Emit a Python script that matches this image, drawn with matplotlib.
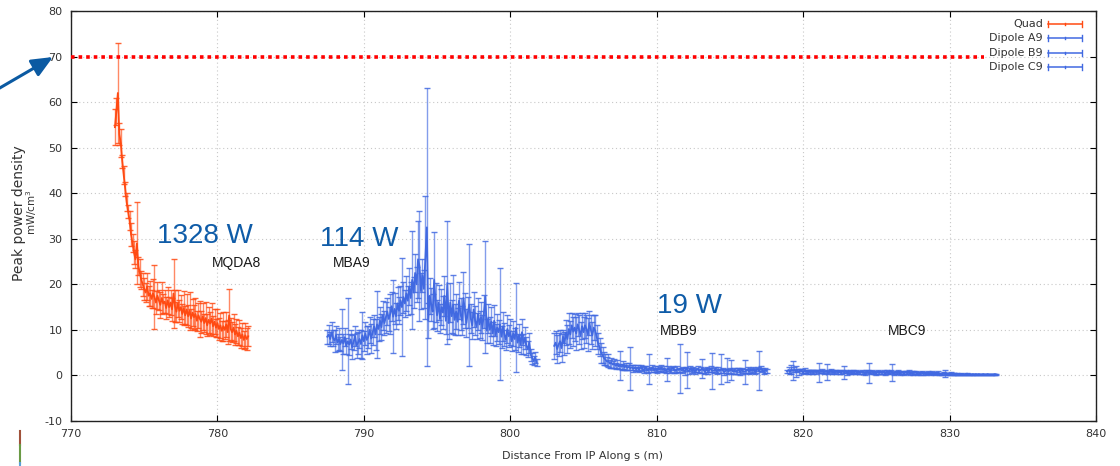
import numpy as np
import matplotlib
matplotlib.use("Agg")
from matplotlib import pyplot as plt
from matplotlib.lines import Line2D
from matplotlib.patches import FancyArrowPatch

plt.rcParams["axes.unicode_minus"] = False

# peak power density along s, one array per magnet (mW/cm^3)
quad_s = (773.0, 782.1)
quad_val = [
    54.5, 58.0, 62.0, 53.0, 51.0, 47.0, 44.0, 41.0, 38.0, 36.0,
    34.0, 31.0, 29.0, 27.0, 25.5, 29.0, 24.0, 22.5, 21.0, 20.0,
    19.0, 18.2, 19.5, 17.5, 18.0, 16.8, 18.0, 17.2, 16.0, 17.5,
    16.5, 15.5, 17.0, 15.8, 16.2, 14.8, 16.5, 15.0, 16.0, 14.5,
    18.0, 15.2, 14.0, 15.8, 14.2, 15.0, 13.5, 14.8, 13.2, 14.5,
    13.0, 14.2, 12.5, 13.8, 12.8, 13.5, 12.0, 13.2, 12.4, 11.8,
    13.0, 11.5, 12.6, 11.0, 12.2, 11.4, 12.5, 10.8, 11.8, 10.5,
    11.5, 10.2, 11.0, 9.8, 10.8, 10.0, 11.2, 9.5, 13.2, 10.2,
    9.5, 10.5, 9.0, 9.8, 8.6, 9.4, 8.2, 9.0, 7.8, 8.8,
    8.0, 8.6,
]
quad_err = [
    3.9, 3.0, 11.0, 2.5, 3.0, 1.5, 2.0, 1.5, 2.0, 1.5,
    2.0, 2.5, 2.0, 2.5, 2.0, 9.0, 2.0, 3.0, 2.0, 2.5,
    2.5, 2.0, 3.0, 2.2, 2.8, 2.0, 3.2, 7.0, 2.5, 3.0,
    2.2, 2.8, 3.5, 2.0, 2.6, 2.4, 3.0, 2.2, 2.8, 2.5,
    7.5, 3.5, 2.2, 3.0, 2.4, 2.6, 2.2, 3.8, 2.0, 3.4,
    2.4, 4.2, 2.0, 3.0, 2.6, 3.5, 2.2, 2.8, 4.0, 2.4,
    3.0, 2.0, 3.6, 2.4, 2.8, 2.6, 3.4, 2.2, 2.8, 2.0,
    3.0, 2.4, 2.8, 2.2, 3.2, 2.0, 2.8, 2.6, 5.7, 2.4,
    2.2, 3.0, 2.4, 2.6, 2.0, 2.8, 2.2, 2.6, 2.0, 2.8,
    2.4, 2.2,
]

dipa_s = (787.5, 801.8)
dipa_val = [
    8.5, 9.0, 8.0, 9.5, 8.2, 7.6,
    8.8, 7.2, 8.0, 6.9, 7.8, 7.0, 8.4, 6.5, 7.5, 6.8,
    7.9, 6.2, 7.4, 8.6, 6.6, 7.2, 8.0, 6.9, 8.8, 7.5,
    9.2, 7.8, 8.5, 10.0, 8.1, 9.5, 10.8, 9.0, 11.2, 10.2,
    12.0, 10.6, 13.2, 11.5, 12.8, 14.0, 12.4, 13.5, 15.2, 12.9,
    14.6, 13.0, 15.8, 14.2, 16.5, 15.0, 17.2, 15.8, 18.0, 16.4,
    19.5, 17.0, 21.0, 18.2, 22.5, 20.0, 25.5, 24.0, 18.5, 22.0,
    19.0, 26.0, 32.5, 12.0, 17.5, 15.5, 14.0, 21.0, 16.0, 13.2,
    16.0, 12.5, 15.0, 13.8, 17.5, 12.0, 20.3, 11.5, 16.0, 13.0,
    15.5, 12.2, 14.0, 11.8, 16.5, 13.5, 12.0, 17.0, 14.2, 11.5,
    13.8, 15.5, 12.5, 11.0, 14.5, 12.0, 10.8, 13.5, 11.2, 12.8,
    10.5, 14.0, 17.3, 9.8, 12.5, 10.0, 11.8, 9.2, 12.0, 8.8,
    10.5, 9.5, 11.2, 8.5, 10.8, 9.0, 7.8, 10.2, 8.6, 9.5,
    7.5, 9.2, 8.0, 10.5, 7.2, 8.8, 6.8, 9.5, 7.0, 8.2,
    6.5, 5.8, 7.2, 4.5, 3.8, 3.2, 4.0, 2.8,
]
dipa_err = [
    1.5, 2.0, 1.6, 2.2, 1.8, 2.4,
    2.0, 1.8, 2.5, 1.6, 6.7, 2.2, 2.0, 1.8, 9.4, 2.4,
    2.0, 2.6, 1.8, 2.2, 2.8, 2.4, 2.0, 3.0, 5.2, 2.2,
    2.6, 3.0, 2.4, 2.8, 3.2, 2.8, 2.4, 3.4, 7.4, 2.6,
    3.0, 2.8, 3.2, 2.6, 3.4, 3.0, 2.6, 4.3, 3.2, 8.0,
    3.4, 2.8, 3.6, 3.0, 3.2, 10.7, 3.4, 3.0, 3.8, 3.2,
    4.0, 3.6, 10.8, 3.4, 4.2, 3.8, 8.5, 12.0, 4.0, 3.6,
    4.2, 13.5, 30.5, 3.8, 4.0, 3.6, 3.8, 10.5, 4.2, 3.4,
    3.8, 3.2, 4.0, 3.6, 4.4, 3.0, 13.5, 3.4, 4.2, 3.6,
    6.5, 3.4, 3.8, 3.0, 4.0, 3.6, 3.2, 5.7, 3.8, 3.0,
    3.4, 13.4, 3.2, 3.0, 3.8, 3.2, 2.8, 3.6, 3.0, 3.4,
    2.8, 3.6, 12.3, 2.6, 3.2, 2.8, 3.2, 2.6, 3.4, 2.4,
    3.0, 2.6, 12.3, 2.4, 3.2, 2.6, 2.2, 3.0, 2.4, 2.8,
    2.2, 2.8, 2.4, 9.7, 2.0, 2.6, 2.0, 2.8, 2.2, 2.4,
    2.0, 1.8, 2.2, 1.4, 1.2, 1.0, 1.2, 0.8,
]

dipb_s = (803.0, 817.5)
dipb_val = [
    6.5, 7.2, 5.8, 6.8, 7.5, 6.0, 8.5, 7.0, 9.4, 8.0,
    10.2, 9.0, 11.0, 9.6, 10.5, 9.2, 11.2, 10.0, 8.8, 10.8,
    9.5, 11.0, 10.2, 9.0, 11.5, 10.0, 8.8, 10.5, 9.8, 8.5,
    7.0, 6.2, 5.0, 4.5, 3.8, 3.5, 3.0, 3.2, 2.6, 2.8,
    2.4, 2.6, 2.1, 2.5, 2.0, 2.2, 1.9, 2.3, 1.8, 2.0,
    1.7, 1.9, 1.6, 1.8, 1.5, 1.7, 1.4, 1.6, 1.3, 1.8,
    1.5, 1.2, 1.6, 1.4, 1.1, 1.5, 1.3, 1.7, 1.2, 1.4,
    1.1, 1.5, 1.3, 1.6, 1.2, 1.4, 1.0, 1.3, 1.5, 1.1,
    1.3, 1.6, 1.2, 1.0, 1.4, 1.2, 1.5, 1.1, 1.3, 0.9,
    1.4, 1.2, 1.0, 1.5, 1.1, 1.3, 0.9, 1.2, 1.4, 1.0,
    1.2, 1.5, 1.1, 0.9, 1.3, 1.0, 1.2, 1.4, 1.0, 1.1,
    1.3, 0.9, 1.2, 1.0, 1.4, 1.1, 0.8, 1.0, 1.2, 0.9,
    1.1, 1.3, 0.9, 1.0, 0.8, 1.0, 1.2, 0.8, 1.1, 0.9,
    0.8, 1.0, 1.2, 0.9, 1.1, 1.0, 1.3, 0.9, 1.1, 1.4,
    1.0, 1.5, 1.2, 0.9, 1.1, 1.0,
]
dipb_err = [
    2.8, 2.5, 3.0, 2.6, 2.4, 3.0, 1.4, 2.6, 2.8, 3.0,
    3.4, 3.0, 2.8, 3.2, 3.0, 3.6, 2.6, 3.2, 3.0, 2.8,
    3.4, 2.8, 3.0, 3.6, 2.6, 3.2, 3.0, 2.8, 3.4, 2.6,
    2.4, 2.0, 2.2, 1.8, 1.4, 1.2, 1.0, 1.4, 0.9, 1.1,
    0.8, 1.0, 0.7, 0.9, 0.6, 3.1, 0.7, 0.9, 0.6, 0.8,
    0.6, 0.8, 4.7, 0.5, 0.7, 0.6, 0.5, 0.7, 0.5, 0.6,
    0.5, 0.6, 0.5, 0.7, 0.5, 3.3, 0.5, 0.6, 0.5, 0.7,
    0.5, 0.6, 0.5, 0.7, 0.5, 0.6, 0.5, 2.5, 0.6, 0.5,
    0.6, 0.5, 0.7, 0.5, 0.6, 0.5, 5.3, 0.6, 0.5, 0.7,
    0.5, 3.9, 0.6, 0.5, 0.6, 0.5, 0.6, 0.5, 0.7, 0.5,
    0.6, 2.1, 0.5, 0.6, 0.5, 0.6, 0.5, 0.7, 4.0, 0.5,
    0.6, 0.5, 0.7, 0.5, 3.2, 0.5, 0.6, 0.5, 2.6, 0.5,
    0.6, 2.2, 0.5, 0.6, 0.5, 0.6, 0.5, 0.6, 0.5, 0.6,
    2.7, 0.5, 0.6, 0.5, 0.6, 0.5, 0.6, 0.5, 0.6, 0.5,
    4.3, 0.6, 0.5, 0.6, 0.5, 0.5,
]

dipc_s = (818.9, 833.2)
dipc_val = [
    0.9, 1.2, 0.8, 1.4, 1.0, 1.3, 0.9, 1.1, 0.8, 1.2,
    1.0, 0.7, 1.1, 0.9, 0.8, 1.0, 0.8, 0.9, 0.7, 1.0,
    0.8, 0.9, 0.7, 0.8, 1.0, 0.7, 0.9, 0.8, 0.6, 0.9,
    1.1, 0.8, 0.7, 0.9, 1.0, 0.7, 0.8, 0.6, 0.9, 0.7,
    0.8, 0.6, 0.7, 0.9, 0.6, 0.8, 0.7, 0.9, 0.6, 0.7,
    0.6, 0.8, 0.7, 0.5, 0.7, 0.8, 0.6, 0.7, 0.9, 0.6,
    0.7, 0.5, 0.8, 0.6, 0.7, 0.6, 0.7, 0.5, 0.8, 0.6,
    0.7, 0.9, 0.6, 0.5, 0.7, 0.6, 0.8, 0.5, 0.7, 0.6,
    0.5, 0.7, 0.6, 0.8, 0.5, 0.6, 0.5, 0.7, 0.6, 0.4,
    0.6, 0.5, 0.7, 0.5, 0.6, 0.4, 0.6, 0.5, 0.4, 0.6,
    0.5, 0.4, 0.5, 0.6, 0.4, 0.3, 0.4, 0.5, 0.4, 0.3,
    0.4, 0.3, 0.5, 0.3, 0.4, 0.3, 0.4, 0.3, 0.2, 0.3,
    0.3, 0.2, 0.3, 0.4, 0.2, 0.3, 0.2, 0.3, 0.2, 0.3,
    0.2, 0.3, 0.2, 0.2, 0.3, 0.2, 0.2, 0.3, 0.2, 0.2,
    0.2, 0.2, 0.3, 0.2,
]
dipc_err = [
    0.4, 0.6, 0.4, 1.0, 2.1, 0.5, 1.2, 0.4, 0.6, 0.3,
    0.4, 0.3, 0.5, 0.3, 0.4, 0.3, 0.4, 0.3, 0.4, 0.3,
    0.4, 0.3, 2.1, 0.3, 0.4, 0.3, 0.4, 1.8, 0.3, 0.4,
    0.3, 0.4, 0.3, 0.4, 0.3, 0.3, 0.4, 0.3, 0.4, 1.4,
    0.3, 0.4, 0.3, 0.4, 0.3, 0.3, 0.3, 0.4, 0.3, 0.3,
    0.3, 0.4, 0.3, 0.3, 0.4, 0.3, 2.2, 0.3, 0.4, 0.3,
    0.3, 0.3, 0.4, 0.3, 0.3, 0.3, 0.4, 0.3, 0.3, 0.3,
    0.3, 0.3, 1.9, 0.3, 0.3, 0.3, 0.3, 0.3, 0.3, 0.3,
    0.3, 0.3, 0.3, 0.3, 0.3, 0.3, 0.3, 0.3, 0.3, 0.3,
    0.2, 0.3, 0.2, 0.3, 0.2, 0.2, 0.3, 0.2, 0.2, 0.3,
    0.2, 0.2, 0.2, 0.3, 0.2, 0.2, 0.2, 0.2, 0.8, 0.2,
    0.2, 0.2, 0.2, 0.2, 0.2, 0.1, 0.2, 0.1, 0.1, 0.2,
    0.1, 0.1, 0.1, 0.2, 0.1, 0.1, 0.1, 0.1, 0.1, 0.1,
    0.1, 0.1, 0.1, 0.1, 0.1, 0.1, 0.1, 0.1, 0.1, 0.1,
    0.1, 0.1, 0.1, 0.1,
]

limit = 70.0

# integrated power and magnet name for each block: (s, y, text)
powers = [(775.9, 29.1, "1328 W"), (787.0, 28.5, "114 W"), (810.05, 13.8, "19 W")]
magnets = [(779.6, 23.9, "MQDA8"), (787.9, 23.9, "MBA9"),
           (810.2, 8.95, "MBB9"), (825.8, 8.95, "MBC9")]

quad_color = "#ff4a12"
dip_color = "#4169e1"
series = [
    ("Quad", quad_s, quad_val, quad_err, quad_color),
    ("Dipole A9", dipa_s, dipa_val, dipa_err, dip_color),
    ("Dipole B9", dipb_s, dipb_val, dipb_err, dip_color),
    ("Dipole C9", dipc_s, dipc_val, dipc_err, dip_color),
]

W, H = 1120, 466


def fx(px):
    return px / W


def fy(py):
    return 1 - py / H


fig = plt.figure(figsize=(W / 100, H / 100), dpi=100)
ax = fig.add_axes([fx(71), fy(421), fx(1096) - fx(71), fy(11) - fy(421)])

for name, (s0, s1), val, err, col in series:
    s = np.linspace(s0, s1, len(val))
    eb = ax.errorbar(s, val, yerr=err, fmt="-", color=col, lw=1.3,
                     elinewidth=1.0, capsize=2.4, capthick=1.0, zorder=3)
    eb[2][0].set_alpha(0.65)
    for cap in eb[1]:
        cap.set_alpha(0.85)

# limit line stops where the key starts
ax.axhline(limit, xmax=(984 - 71) / 1025, color="#ff0000", lw=2.6,
           ls=(0, (1, 1.1)), zorder=4)

for s, y, t in powers:
    ax.text(s, y, t, fontsize=20, color="#0f5ca8", family="Liberation Sans",
            va="baseline", ha="left", zorder=6)
for s, y, t in magnets:
    ax.text(s, y, t, fontsize=10, color="#1a1a1a", family="Liberation Sans",
            va="baseline", ha="left", zorder=6)

ax.set_xlim(770, 840)
ax.set_ylim(-10, 80)
ax.set_xticks(np.arange(770, 841, 10))
ax.set_yticks(np.arange(-10, 81, 10))
ax.grid(True, color="#c8c8c8", lw=0.8, ls=(0, (1, 2.5)))
ax.set_axisbelow(True)
ax.tick_params(direction="in", length=4, width=0.8, top=True, right=True,
               labelsize=8, labelcolor="#333333", pad=6)
for sp in ax.spines.values():
    sp.set_color("#222222")
    sp.set_linewidth(1.0)

# key in the top right corner, text right-aligned before the sample
rows = [24, 38, 53, 67]
for (name, _, _, _, col), py in zip(series, rows):
    fig.text(fx(1043), fy(py), name, ha="right", va="center", fontsize=8,
             color="#333333")
    y = fy(py)
    h = 3 / H
    fig.add_artist(Line2D([fx(1048), fx(1082)], [y, y], color=col, lw=1.1))
    for px in (1048, 1082):
        fig.add_artist(Line2D([fx(px), fx(px)], [y - h, y + h], color=col, lw=1.0))
    fig.add_artist(Line2D([fx(1065), fx(1065)], [y - 1 / H, y + 1 / H], color=col, lw=1.0))

fig.text(fx(582), fy(456), "Distance From IP Along s (m)", ha="center",
         va="center", fontsize=8, color="#333333")
fig.text(fx(19), fy(213), "Peak power density", rotation=90, ha="center",
         va="center", fontsize=10, color="#333333")
fig.text(fx(32), fy(212), "mW/cm$^3$", rotation=90, ha="center",
         va="center", fontsize=7.5, color="#333333")

arrow = FancyArrowPatch((fx(-2), fy(89)), (fx(53), fy(57)),
                        transform=fig.transFigure, color="#0b5aa2",
                        arrowstyle="-|>,head_length=0.8,head_width=0.35",
                        mutation_scale=16, lw=2.2, shrinkA=0, shrinkB=0)
fig.add_artist(arrow)

# little coloured tick in the lower left corner
for c, y0, y1 in [("#a0523a", 431, 445), ("#6a9a45", 445, 463), ("#5aa0d8", 463, 466)]:
    fig.add_artist(Line2D([fx(20), fx(20)], [fy(y0), fy(y1)], color=c, lw=1.5))

fig.savefig("out.png", dpi=100)
